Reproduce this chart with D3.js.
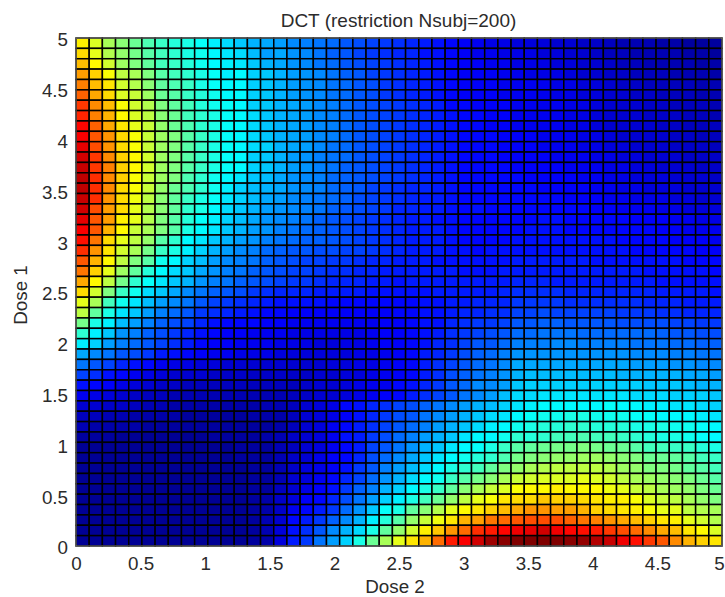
<!DOCTYPE html>
<html lang="en">
<head>
<meta charset="UTF-8">
<title>DCT</title>
<script src="https://d3js.org/d3.v7.min.js"></script>
<style>
  html, body { margin: 0; padding: 0; background: #fff; overflow: hidden; }
  text { font-family: "Liberation Sans", Arial, sans-serif; fill: #2b2b2b; }
</style>
</head>
<body>
<script>
const chartTitle = "DCT (restriction Nsubj=200)";
const xLabel = "Dose 2";
const yLabel = "Dose 1";
const doseTicks = [0, 0.5, 1, 1.5, 2, 2.5, 3, 3.5, 4, 4.5, 5];

// cell values, on the 0-100 colour range
// first row is the top of the plot (Dose 1 near 5), first column is Dose 2 near 0
const dctValues = [
  [64,59,54,51,48,45,43,41,40,38,36,34,32,30,29,28,26,25,24,23,21,20,19,18,17,16,15,14,13,12,11,10,10,9,9,9,8,8,7,7,6,5,5,5,4,4,3,3,3],
  [66,60,55,52,49,46,44,42,40,39,37,35,34,31,28,29,27,26,24,22,21,19,18,17,16,16,14,14,13,12,11,11,10,10,10,9,9,8,8,7,6,6,5,5,5,5,4,4,3],
  [69,63,58,53,50,47,44,43,41,39,37,36,35,32,30,29,27,26,24,23,21,20,19,18,17,16,15,14,13,12,12,11,11,10,10,10,9,9,8,8,7,6,6,5,5,5,5,4,4],
  [72,67,62,56,54,50,46,44,42,40,38,36,37,33,32,30,28,27,26,24,22,21,19,18,17,16,15,14,13,12,12,12,11,11,10,10,10,9,8,8,7,7,6,6,6,5,5,5,4],
  [75,69,65,58,55,51,47,45,43,40,38,37,37,33,32,30,28,27,26,24,23,21,20,18,17,16,15,14,13,12,12,12,11,11,11,11,10,10,9,9,8,7,7,6,6,6,6,5,5],
  [78,71,66,59,57,53,48,46,43,41,39,37,37,33,32,30,28,27,26,24,23,21,20,18,17,16,15,14,13,12,12,12,11,11,11,11,10,10,9,9,8,8,7,7,6,6,6,5,5],
  [82,74,69,62,58,55,50,47,44,41,39,38,37,33,32,30,29,28,26,25,23,21,20,19,18,17,16,15,13,13,12,12,12,11,11,11,11,10,10,9,8,8,8,7,7,6,6,6,5],
  [84,75,70,63,59,56,51,48,44,42,40,38,37,34,32,30,29,28,26,25,23,21,20,19,18,17,16,15,14,13,13,12,12,11,11,11,11,10,10,9,8,8,8,7,7,7,6,6,5],
  [87,78,71,65,60,57,52,48,45,42,40,38,37,34,32,30,29,28,26,25,23,21,20,19,18,17,16,15,14,13,13,12,12,11,11,11,11,10,10,9,8,8,8,8,7,7,6,6,6],
  [88,79,73,66,62,57,53,50,46,43,40,38,37,34,32,30,29,28,26,25,23,21,20,19,18,17,16,15,14,13,13,13,12,12,12,11,11,11,10,10,9,8,8,8,8,7,7,6,6],
  [90,80,73,66,62,57,53,50,46,43,40,38,37,34,33,30,29,28,26,24,23,21,20,19,18,17,16,15,14,13,13,13,12,12,12,11,11,11,10,10,9,9,8,8,8,7,7,7,6],
  [92,82,74,67,63,58,53,50,46,43,40,38,37,33,32,30,28,27,25,24,23,21,20,19,18,17,16,15,14,13,13,13,12,12,12,12,11,11,11,10,10,9,9,8,8,8,7,7,7],
  [93,82,75,67,63,58,53,50,46,43,40,38,37,33,32,30,28,27,25,24,22,21,20,19,18,17,16,15,14,13,13,13,13,12,12,12,12,11,11,11,10,10,9,9,8,8,8,7,7],
  [94,83,74,67,62,57,53,50,45,42,39,37,35,32,31,29,27,26,25,23,22,21,20,19,18,17,16,15,14,13,13,13,13,13,12,12,12,12,11,11,10,10,9,9,9,8,8,8,7],
  [94,83,74,66,62,57,52,48,45,42,39,36,33,31,30,29,27,26,25,23,22,21,19,18,17,16,16,15,14,13,13,13,13,13,13,12,12,12,12,11,11,10,10,9,9,9,8,8,8],
  [93,83,73,66,61,56,51,47,43,40,38,35,33,31,29,28,26,25,24,23,22,20,19,18,17,16,15,15,14,13,13,13,13,13,13,13,13,12,12,12,11,11,10,10,10,9,9,8,8],
  [92,80,72,66,60,55,51,47,42,40,37,34,32,30,28,27,26,25,24,22,21,20,19,18,16,16,15,15,14,13,14,13,13,13,13,13,13,13,13,12,12,11,11,11,10,10,9,9,9],
  [90,79,72,64,60,55,50,46,41,38,36,33,31,29,27,26,25,24,22,21,20,19,18,17,16,15,15,14,14,13,13,13,13,13,13,14,14,13,13,13,13,13,12,12,12,11,11,10,10],
  [88,79,70,63,57,54,50,46,40,37,35,32,30,28,27,25,24,23,22,21,20,19,18,17,16,15,15,15,14,13,13,13,13,13,14,14,14,13,13,13,13,13,13,13,12,12,11,11,11],
  [86,76,66,60,56,52,46,42,37,35,32,30,28,27,25,24,23,22,22,21,20,19,18,17,16,15,15,15,14,13,13,13,13,14,14,14,14,14,14,14,14,13,13,13,13,12,12,12,11],
  [83,73,65,58,54,49,43,40,36,33,30,28,26,25,23,22,21,21,20,20,19,19,18,17,16,15,15,15,14,14,13,14,14,14,14,14,14,14,14,14,14,14,13,13,13,13,13,12,12],
  [79,70,63,56,50,46,39,37,33,31,28,26,25,24,22,21,20,19,19,18,18,17,16,16,15,15,15,14,14,14,14,14,14,15,15,15,15,15,15,14,14,14,14,14,14,14,13,13,13],
  [76,67,60,53,47,41,37,34,32,29,27,25,24,22,21,20,19,19,18,17,17,16,16,15,15,15,15,15,15,14,14,14,15,15,15,15,15,15,15,15,15,15,15,14,14,14,14,14,13],
  [71,63,56,49,42,38,35,32,30,27,25,24,22,21,20,19,18,18,17,16,16,16,15,15,14,15,15,15,15,15,15,15,15,16,16,16,15,15,15,15,15,15,15,15,14,14,14,14,14],
  [66,58,50,43,39,34,32,29,26,24,22,21,20,18,17,16,16,16,15,15,15,15,14,14,14,14,14,15,15,15,15,15,16,17,17,17,17,16,16,16,16,16,16,16,15,15,15,15,14],
  [60,54,44,39,35,31,28,26,24,21,19,18,17,16,15,14,14,14,14,13,13,13,13,13,13,13,14,14,15,15,16,16,16,18,18,18,18,17,17,17,17,17,17,16,16,16,15,15,15],
  [56,47,40,35,32,28,25,23,21,18,17,16,15,14,13,13,12,12,12,12,12,12,12,12,13,13,14,14,15,16,16,17,17,19,19,20,19,19,19,19,19,18,18,18,17,17,16,16,16],
  [49,40,36,31,28,25,22,20,19,16,14,13,13,13,12,12,11,11,11,11,11,11,11,12,12,13,14,14,16,17,18,18,19,21,21,22,22,21,21,21,21,20,20,20,20,19,19,18,18],
  [42,36,32,27,25,22,20,18,16,14,13,12,12,11,11,11,10,10,10,10,10,10,11,12,12,13,14,15,17,18,19,20,21,23,23,24,24,24,23,23,23,23,23,23,22,21,21,20,20],
  [36,33,28,25,23,21,19,17,15,13,12,12,11,11,11,10,10,10,9,9,10,10,11,12,12,13,14,16,17,19,21,21,23,25,25,25,26,26,25,25,25,25,24,24,24,23,23,22,22],
  [29,26,24,21,20,18,15,14,13,12,11,11,10,10,10,9,9,9,9,9,9,10,10,11,12,13,15,16,18,20,22,23,25,27,27,27,27,27,27,27,27,27,26,26,26,25,25,24,24],
  [24,21,19,16,14,13,11,10,10,9,9,8,8,8,8,8,8,8,8,9,9,10,10,11,12,13,15,17,19,21,23,24,26,29,29,29,29,29,29,29,29,29,28,28,28,27,27,26,26],
  [19,17,14,13,11,10,9,8,8,8,7,7,7,7,7,7,7,7,8,8,9,9,10,11,12,13,15,17,20,22,24,25,27,30,31,31,31,31,31,31,31,30,30,30,30,30,29,29,28],
  [14,13,12,10,9,8,7,7,6,6,6,6,6,6,6,6,6,7,8,8,9,10,11,11,13,14,16,18,21,23,26,26,28,32,33,33,33,33,33,33,33,33,33,32,32,32,31,30,30],
  [11,10,9,8,7,6,6,5,5,5,5,5,5,5,5,5,6,7,8,8,9,10,11,12,13,15,17,19,21,24,26,28,31,34,34,35,35,35,35,35,35,35,34,34,34,33,33,33,32],
  [8,8,7,7,6,5,5,4,4,4,4,4,4,4,5,5,6,8,9,10,13,14,16,17,19,20,22,24,26,28,30,31,33,35,36,37,37,37,37,37,38,37,37,36,36,35,35,34,33],
  [6,6,5,5,4,4,4,4,3,3,3,3,3,4,4,4,6,8,9,10,12,14,16,18,20,21,24,26,28,30,32,34,35,37,38,39,39,40,40,39,39,39,38,38,37,37,37,36,35],
  [5,4,4,4,4,3,3,3,3,3,3,3,3,3,3,4,6,8,9,11,13,15,17,19,21,23,25,28,30,32,34,36,37,39,40,41,41,42,42,41,41,41,40,40,40,39,39,38,37],
  [3,3,3,2,2,2,2,2,2,2,3,3,3,3,4,5,7,8,9,11,14,15,18,20,23,25,28,30,32,35,37,37,39,42,41,42,44,44,45,44,44,43,42,41,40,40,39,38,37],
  [2,2,2,2,2,2,2,2,2,2,2,2,3,3,3,5,6,8,9,11,13,15,19,21,24,27,30,32,35,37,38,40,43,46,47,48,49,49,50,49,48,48,46,44,44,43,43,41,40],
  [2,2,2,2,2,2,2,2,2,2,2,2,3,3,3,5,7,8,10,12,13,16,20,23,26,29,32,35,37,39,41,42,45,49,50,51,52,52,53,53,52,51,50,48,48,47,46,44,43],
  [2,2,2,2,2,2,2,2,2,2,2,2,2,3,3,5,7,9,10,12,14,18,21,25,28,31,34,37,40,42,44,47,50,52,54,55,56,56,56,56,55,53,52,50,50,49,47,46,44],
  [2,2,2,2,2,2,2,2,2,2,2,2,2,3,3,5,8,9,11,13,16,19,23,27,30,34,37,39,43,46,49,51,54,57,58,59,59,59,60,59,58,56,54,53,52,51,50,48,46],
  [2,2,2,2,2,2,2,2,2,2,2,2,2,3,3,6,8,10,12,14,18,22,25,30,33,37,40,43,47,51,54,57,59,62,63,63,64,63,63,63,61,60,57,56,54,53,52,50,48],
  [2,2,2,2,2,2,2,2,2,2,2,2,2,3,4,7,9,12,13,16,20,24,28,33,36,40,44,48,52,56,60,62,65,66,66,68,67,67,66,65,64,64,62,59,57,56,54,52,50],
  [2,2,2,2,2,2,2,2,2,2,2,2,2,3,4,7,11,13,15,18,23,27,32,38,40,47,51,55,60,63,65,67,69,71,73,73,72,72,70,67,66,65,64,62,60,60,56,55,54],
  [2,2,2,2,2,2,2,2,2,2,2,2,2,3,5,8,13,15,18,22,26,30,36,41,46,52,57,61,65,70,72,76,77,79,80,80,80,78,76,75,73,71,69,67,65,64,60,58,55],
  [2,2,2,2,2,2,2,2,2,2,2,2,2,3,5,9,14,17,21,26,30,34,40,47,52,58,64,68,73,77,83,85,87,89,90,92,89,87,86,85,82,80,77,74,71,69,65,63,59],
  [2,2,2,2,2,2,2,2,2,2,2,2,2,3,4,9,15,18,24,28,33,40,48,54,60,65,70,77,85,88,92,97,99,100,100,100,100,99,98,95,93,89,86,82,79,74,70,67,65]
];

const width = 725;
const height = 597;
const plot = { left: 76, right: 722, top: 38, bottom: 546 };

const svg = d3.select("body").append("svg")
  .attr("width", width)
  .attr("height", height);

const x = d3.scaleLinear().domain([0, 5]).range([plot.left, plot.right]);
const y = d3.scaleLinear().domain([0, 5]).range([plot.bottom, plot.top]);

// one band per cell, pcolor style
const colBand = d3.scaleBand().domain(d3.range(dctValues[0].length)).range([plot.left, plot.right]);
const rowBand = d3.scaleBand().domain(d3.range(dctValues.length)).range([plot.top, plot.bottom]);

// matlab jet
const jet = d3.scaleLinear()
  .domain([0, 12.5, 37.5, 62.5, 87.5, 100])
  .range(["#000080", "#0000ff", "#00ffff", "#ffff00", "#ff0000", "#800000"]);

const cells = dctValues.flatMap((row, r) => row.map((v, c) => ({ r, c, v })));

svg.append("g").selectAll("rect")
  .data(cells)
  .enter()
  .append("rect")
  .attr("x", d => colBand(d.c))
  .attr("y", d => rowBand(d.r))
  .attr("width", colBand.bandwidth())
  .attr("height", rowBand.bandwidth())
  .attr("fill", d => jet(d.v))
  .attr("stroke", "#000")
  .attr("stroke-width", 1.5);

// box round the plot
svg.append("rect")
  .attr("x", plot.left)
  .attr("y", plot.top)
  .attr("width", plot.right - plot.left)
  .attr("height", plot.bottom - plot.top)
  .attr("fill", "none")
  .attr("stroke", "#777")
  .attr("stroke-width", 1);

const fmt = d => String(d);

const xAxis = svg.append("g")
  .attr("transform", "translate(0," + plot.bottom + ")")
  .call(d3.axisBottom(x).tickValues(doseTicks).tickFormat(fmt).tickSize(0).tickPadding(11));

const yAxis = svg.append("g")
  .attr("transform", "translate(" + plot.left + ",0)")
  .call(d3.axisLeft(y).tickValues(doseTicks).tickFormat(fmt).tickSize(0).tickPadding(8));

xAxis.select(".domain").remove();
yAxis.select(".domain").remove();
svg.selectAll(".tick text").style("font-size", "18.8px").style("font-family", "Liberation Sans");
yAxis.selectAll(".tick text").attr("dy", "0.37em").attr("y", 1);

// last label sits against the window edge
xAxis.selectAll(".tick text").filter(d => d === 5).attr("x", -3);

svg.append("text")
  .attr("x", 398.5)
  .attr("y", 27)
  .attr("text-anchor", "middle")
  .style("font-size", "19px")
  .text(chartTitle);

svg.append("text")
  .attr("x", 395)
  .attr("y", 593)
  .attr("text-anchor", "middle")
  .style("font-size", "18.8px")
  .text(xLabel);

svg.append("text")
  .attr("transform", "translate(27,295) rotate(-90)")
  .attr("text-anchor", "middle")
  .style("font-size", "18.8px")
  .text(yLabel);
</script>
</body>
</html>
